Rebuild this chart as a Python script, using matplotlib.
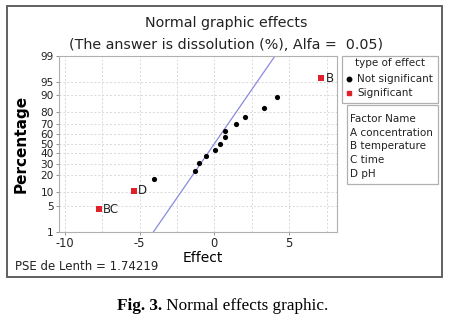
import numpy as np
import matplotlib
matplotlib.use("Agg")
from matplotlib import pyplot as plt
from matplotlib.patches import Rectangle
from matplotlib.lines import Line2D
from statistics import NormalDist

# effects (sorted), with their normal-plot percentages
effects = [-7.70, -5.38, -4.02, -1.30, -1.04, -0.55, 0.02, 0.40, 0.73, 0.73,
           1.46, 2.05, 3.31, 4.17, 7.15]
percents = [4.1, 10.7, 17.2, 23.8, 30.3, 36.9, 43.4, 50.0, 56.6, 63.1,
            69.7, 76.2, 82.8, 89.3, 95.9]
labels = ["BC", "D", "", "", "", "", "", "", "", "", "", "", "", "", "B"]
significant = [True, True] + [False] * 12 + [True]
pse = 1.74219
y_ticks = [1, 5, 10, 20, 30, 40, 50, 60, 70, 80, 90, 95, 99]
factors = ["A concentration", "B temperature", "C time", "D pH"]

nd = NormalDist()
_ppf = np.vectorize(lambda p: nd.inv_cdf(min(max(p / 100.0, 1e-9), 1 - 1e-9)),
                    otypes=[float])
_cdf = np.vectorize(lambda z: nd.cdf(z) * 100.0, otypes=[float])

def fwd(p):
    return _ppf(np.asarray(p, dtype=float))

def inv(z):
    return _cdf(np.asarray(z, dtype=float))

W, H = 450, 320
def fx(px):
    return px / W
def fy(py):
    return 1 - py / H

plt.rcParams['font.family'] = ['DejaVu Sans']
fig = plt.figure(figsize=(4.5, 3.2), dpi=100)
fig.patch.set_facecolor("white")

# outer frame around the minitab graph
fig.add_artist(Rectangle((fx(7), fy(277)), fx(442) - fx(7), fy(6) - fy(277),
                         transform=fig.transFigure, fill=False,
                         edgecolor="#606060", linewidth=1.4))

ax = fig.add_axes([fx(59.5), fy(231.5), fx(337) - fx(59.5), fy(56) - fy(231.5)])
ax.set_yscale("function", functions=(fwd, inv))
ax.set_ylim(1, 99)
ax.set_xlim(-10.35, 8.2)

ax.set_yticks(y_ticks)
ax.set_yticklabels([str(t) for t in y_ticks])
ax.yaxis.set_minor_locator(matplotlib.ticker.NullLocator())
ax.set_xticks([-10, -5, 0, 5])
ax.set_xticklabels(["-10", "-5", "0", "5"])
ax.set_xticks(np.arange(-10, 8.5, 2.5), minor=True)

ax.grid(True, which="both", axis="x", color="#d8d8d8", linestyle=(0, (2, 2)), linewidth=0.7)
ax.grid(True, which="major", axis="y", color="#d8d8d8", linestyle=(0, (2, 2)), linewidth=0.7)
ax.set_axisbelow(True)
ax.tick_params(axis="both", which="major", length=2.5, width=0.6,
               color="#808080", pad=1.5, labelcolor="#222222")
ax.tick_params(axis="x", labelsize=8.3)
ax.tick_params(axis="y", labelsize=7.6)
ax.tick_params(axis="x", which="minor", length=0)
for s in ax.spines.values():
    s.set_color("#b0b0b0")
    s.set_linewidth(0.8)

# reference line from Lenth's PSE
xl = np.linspace(-4.6, 4.6, 200)
ax.plot(xl, inv(xl / pse), color="#8a8ade", linewidth=0.9, zorder=2)

eff = np.array(effects)
pct = np.array(percents)
sig = np.array(significant)
ax.scatter(eff[~sig], pct[~sig], s=14, color="black", marker="o", zorder=3, linewidths=0)
ax.scatter(eff[sig], pct[sig], s=13, color="#e0202a", marker="s", zorder=3, linewidths=0)
for e, p, lab in zip(effects, percents, labels):
    if lab:
        ax.annotate(lab, (e, p), xytext=(3, 0), textcoords="offset points",
                    va="center", ha="left", fontsize=8.5, color="#222222")

ax.set_ylabel("Percentage", fontsize=11, fontweight="bold")
ax.yaxis.set_label_coords((29 - 59.5) / (337 - 59.5), 0.5)
ax.set_xlabel("Effect", fontsize=10)
ax.xaxis.set_label_coords((203 - 59.5) / (337 - 59.5), -(251 - 231.5) / (231.5 - 56))

fig.text(fx(226), fy(23), "Normal graphic effects", ha="center", va="center",
         fontsize=10.3, color="#222222")
fig.text(fx(226), fy(45), "(The answer is dissolution (%), Alfa =  0.05)",
         ha="center", va="center", fontsize=10.3, color="#222222")

fig.text(fx(15), fy(267), "PSE de Lenth = 1.74219", ha="left", va="center",
         fontsize=8.5, color="#222222")

# legend box: type of effect
fig.add_artist(Rectangle((fx(342), fy(103)), fx(438) - fx(342), fy(56) - fy(103),
                         transform=fig.transFigure, fill=False,
                         edgecolor="#b0b0b0", linewidth=0.9))
fig.text(fx(390), fy(63), "type of effect", ha="center", va="center", fontsize=7.5,
         color="#222222")
fig.add_artist(Line2D([fx(349)], [fy(79)], marker="o", markersize=3.2, color="black",
                      linestyle="none", transform=fig.transFigure))
fig.text(fx(357), fy(79), "Not significant", ha="left", va="center", fontsize=7.5,
         color="#222222")
fig.add_artist(Line2D([fx(349)], [fy(93)], marker="s", markersize=3.0, color="#e0202a",
                      linestyle="none", transform=fig.transFigure))
fig.text(fx(357), fy(93), "Significant", ha="left", va="center", fontsize=7.5,
         color="#222222")

# legend box: factor names
fig.add_artist(Rectangle((fx(347), fy(184)), fx(438) - fx(347), fy(105) - fy(184),
                         transform=fig.transFigure, fill=False,
                         edgecolor="#b0b0b0", linewidth=0.9))
rows = ["Factor Name"] + factors
for i, r in enumerate(rows):
    fig.text(fx(350), fy(119 + i * 13.7), r, ha="left", va="center", fontsize=7.5,
             color="#222222")

# caption
cap = fig.text(fx(117), fy(306), "Fig. 3.", ha="left", va="center", fontsize=12.3,
               fontweight="bold", family="Liberation Serif")
ax.annotate(" Normal effects graphic.", xy=(1, 0.5), xycoords=cap, va="center",
            ha="left", fontsize=12.3, family="Liberation Serif",
            annotation_clip=False)

fig.savefig("out.png", dpi=100)
